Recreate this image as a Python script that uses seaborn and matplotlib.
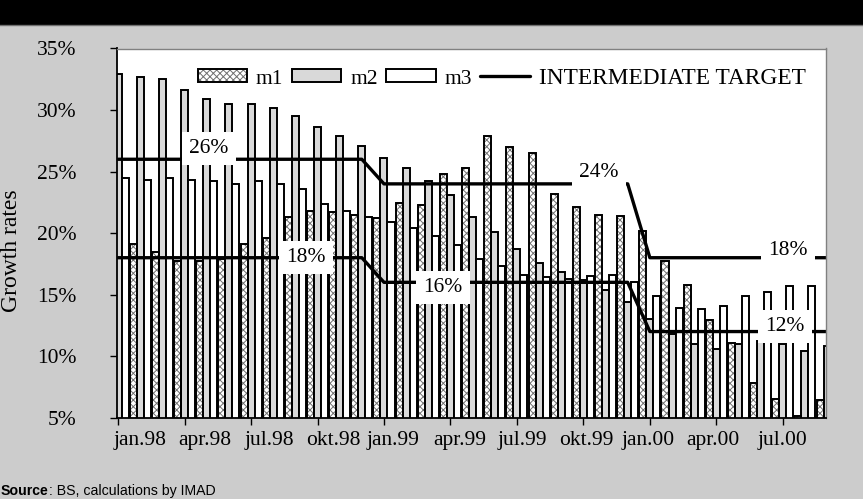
import numpy as np
import pandas as pd
import matplotlib
matplotlib.use("Agg")
import matplotlib.pyplot as plt
from matplotlib.patches import Patch, Rectangle
from matplotlib.lines import Line2D
from matplotlib.legend_handler import HandlerTuple
import seaborn as sns

# Monthly growth rates of the monetary aggregates, jan.98 - sep.00 (in %)
months = ["jan.98", "feb.98", "mar.98", "apr.98", "maj.98", "jun.98",
          "jul.98", "avg.98", "sep.98", "okt.98", "nov.98", "dec.98",
          "jan.99", "feb.99", "mar.99", "apr.99", "maj.99", "jun.99",
          "jul.99", "avg.99", "sep.99", "okt.99", "nov.99", "dec.99",
          "jan.00", "feb.00", "mar.00", "apr.00", "maj.00", "jun.00",
          "jul.00", "avg.00", "sep.00"]

m1 = [np.nan, 19.15, 18.5, 17.7, 17.7, 17.9, 19.15, 19.6, 21.3, 21.8, 21.7,
      21.5, 21.2, 22.45, 22.3, 24.8, 25.3, 27.9, 27.0, 26.5, 23.2, 22.1,
      21.5, 21.4, 20.2, 17.7, 15.8, 12.9, 11.1, 7.8, 6.5, 5.15, 6.4]
m2 = [32.9, 32.7, 32.5, 31.6, 30.9, 30.5, 30.5, 30.2, 29.5, 28.6, 27.9,
      27.05, 26.1, 25.3, 24.2, 23.1, 21.3, 20.1, 18.7, 17.6, 16.8, 16.2,
      15.4, 14.4, 13.05, 11.8, 11.0, 10.6, 10.95, 11.2, 11.0, 10.45, 10.8]
m3 = [24.5, 24.3, 24.5, 24.3, 24.2, 24.0, 24.2, 24.0, 23.6, 22.4, 21.8,
      21.3, 20.9, 20.4, 19.75, 19.0, 17.9, 17.3, 16.6, 16.4, 16.3, 16.5,
      16.6, 16.0, 14.9, 13.95, 13.8, 14.1, 14.9, 15.2, 15.7, 15.7, np.nan]

# Intermediate target corridor (upper and lower bound)
target_upper = [26, 26, 26, 26, 26, 26, 26, 26, 26, 26, 26, 26,
                24, 24, 24, 24, 24, 24, 24, 24, 24, 24, 24, 24,
                18, 18, 18, 18, 18, 18, 18, 18, 18]
target_lower = [18, 18, 18, 18, 18, 18, 18, 18, 18, 18, 18, 18,
                16, 16, 16, 16, 16, 16, 16, 16, 16, 16, 16, 16,
                12, 12, 12, 12, 12, 12, 12, 12, 12]

axis_labels = ["jan.98", "apr.98", "jul.98", "okt.98", "jan.99", "apr.99",
               "jul.99", "okt.99", "jan.00", "apr.00", "jul.00"]
axis_label_pos = [0.97, 3.93, 6.82, 9.71, 12.42, 15.4, 18.24, 21.13, 23.93,
                  26.86, 29.98]

series = ["m1", "m2", "m3"]
n = len(months)

BG = "#cccccc"
sns.set_theme(style="white")
plt.rcParams["font.family"] = ["Liberation Serif", "DejaVu Serif"]
plt.rcParams["hatch.linewidth"] = 0.7

FS = 15.5
TEXT = "black"
HATCH = "xxxxx"
HATCH_COLOR = "#707070"
M2_COLOR = "#d9d9d9"
EDGE_LW = 1.4
LINE_LW = 2.4

fig = plt.figure(figsize=(8.63, 4.99), dpi=100, facecolor=BG)

# black title band
band = fig.add_axes([0, 1 - 24.5 / 499, 1, 24.5 / 499])
band.set_facecolor("black")
band.set_xticks([])
band.set_yticks([])
for side, s in band.spines.items():
    s.set_visible(side == "bottom")
band.spines["bottom"].set_color("#707070")
band.spines["bottom"].set_linewidth(1)

ax = fig.add_axes([117 / 863, 1 - 417.7 / 499, 709 / 863, 369.2 / 499])
ax.set_facecolor("white")

df = pd.DataFrame({
    "month": months * 3,
    "series": ["m1"] * n + ["m2"] * n + ["m3"] * n,
    "rate": m1 + m2 + m3,
})

sns.barplot(data=df, x="month", y="rate", hue="series", order=months,
            hue_order=series,
            palette={"m1": "white", "m2": M2_COLOR, "m3": "white"},
            width=0.95, gap=0, saturation=1, edgecolor="black",
            linewidth=EDGE_LW, errorbar=None, legend=False, ax=ax, zorder=2)

# m1 bars: grey cross-hatch inside a black outline
for bar in ax.containers[0]:
    h = bar.get_height()
    if not np.isfinite(h):
        continue
    bar.set_hatch(HATCH)
    bar.set_edgecolor(HATCH_COLOR)
    bar.set_linewidth(0)
    ax.add_patch(Rectangle(bar.get_xy(), bar.get_width(), h, fill=False,
                           edgecolor="black", linewidth=EDGE_LW, zorder=2.1))

# target corridor
xpos = np.arange(n)
sns.lineplot(x=xpos, y=target_upper, color="black", linewidth=LINE_LW,
             ax=ax, zorder=3)
sns.lineplot(x=xpos, y=target_lower, color="black", linewidth=LINE_LW,
             ax=ax, zorder=3)

# labels of the target values (x position, index of the target, y offset)
upper_labels = [(4.1, 0, 0.9), (21.7, 12, 0.93), (30.25, 24, 0.6)]
lower_labels = [(8.47, 0, 0.0), (14.66, 12, -0.45), (30.1, 24, 0.4)]
box = dict(boxstyle="square,pad=0.33", facecolor="white", edgecolor="none")
for targets, specs in ((target_upper, upper_labels),
                       (target_lower, lower_labels)):
    for x, i, dy in specs:
        ax.text(x, targets[i] + dy, f"{targets[i]:.0f}%", ha="center",
                va="center", fontsize=FS, color=TEXT, bbox=box, zorder=4)

# axes
ax.set_xlim(-0.05, 31.95)
ax.set_ylim(5, 35)
ax.set_yticks(range(5, 36, 5))
ax.set_yticklabels([f"{v}%" for v in range(5, 36, 5)], fontsize=FS,
                   color=TEXT)
ax.set_xticks(range(0, 31, 3))
ax.set_xticklabels([])
ax.set_xticks(axis_label_pos, minor=True)
ax.set_xticklabels(axis_labels, minor=True, fontsize=FS, color=TEXT)
ax.tick_params(axis="x", which="major", direction="out", length=5, width=1,
               bottom=True, color="black")
ax.tick_params(axis="x", which="minor", length=0, pad=9.5, bottom=True)
ax.tick_params(axis="y", direction="out", length=5, width=1, left=True,
               color="black", pad=24)
ax.set_xlabel("")
ax.set_ylabel("Growth rates", fontsize=17, color=TEXT)
ax.yaxis.set_label_coords(-0.134, 0.452)

for side in ("left", "bottom"):
    ax.spines[side].set_color("black")
    ax.spines[side].set_linewidth(1.3)
for side in ("top", "right"):
    ax.spines[side].set_color("#808080")
    ax.spines[side].set_linewidth(1.0)
for s in ax.spines.values():
    s.set_zorder(5)

# legend
h1 = (Patch(facecolor="white", edgecolor=HATCH_COLOR, hatch=HATCH, lw=0),
      Patch(fill=False, edgecolor="black", lw=EDGE_LW))
h2 = Patch(facecolor=M2_COLOR, edgecolor="black", lw=EDGE_LW)
h3 = Patch(facecolor="white", edgecolor="black", lw=EDGE_LW)
h4 = Line2D([], [], color="black", lw=LINE_LW)
leg = ax.legend([h1, h2, h3, h4], ["m1", "m2", "m3", "INTERMEDIATE TARGET"],
                handler_map={tuple: HandlerTuple(ndivide=1, pad=0)}, ncol=4,
                loc="center left", bbox_to_anchor=(0.114, 0.92),
                frameon=False, borderpad=0, borderaxespad=0,
                handlelength=2.3, handleheight=0.55, handletextpad=0.4,
                columnspacing=0.4, fontsize=15.5, labelcolor=TEXT)
leg.get_texts()[3].set_fontsize(16.8)

# source note
src = fig.text(1 / 863, 1 - 491 / 499, "Source", fontsize=10.2,
               fontweight="bold", family=["Liberation Sans", "DejaVu Sans"],
               color=TEXT, va="center", ha="left")
fig.canvas.draw()
bb = src.get_window_extent()
fig.text(bb.x1 / fig.bbox.width, 1 - 491 / 499, ": BS, calculations by IMAD",
         fontsize=10.2, family=["Liberation Sans", "DejaVu Sans"],
         color=TEXT, va="center", ha="left")

fig.savefig("out.png", dpi=100, facecolor=BG)
